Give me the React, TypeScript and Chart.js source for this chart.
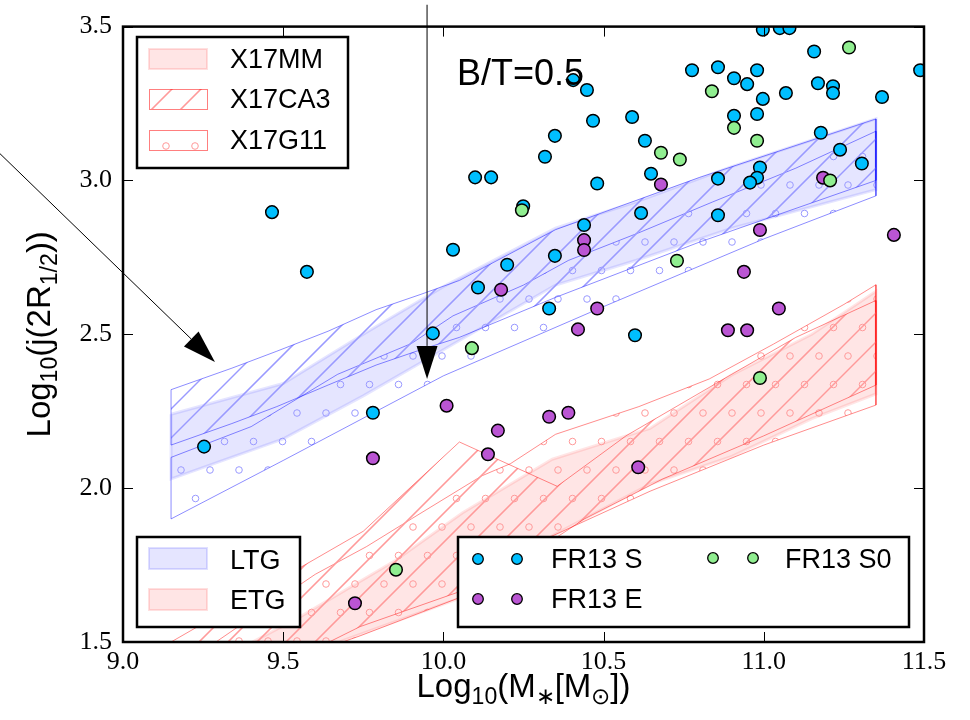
import React, { useEffect, useRef } from "react";
import { Chart, registerables } from "chart.js";
Chart.register(...registerables);

// ---- axis ticks ----
const xTicks = [9.0, 9.5, 10.0, 10.5, 11.0, 11.5];
const yTicks = [1.5, 2.0, 2.5, 3.0, 3.5];

// ---- LTG model bands ----
const ltgMMx = [9.15, 9.5, 9.75, 10.0, 10.35, 10.6, 10.9, 11.35];
const ltgMMup = [2.24, 2.34, 2.5, 2.655, 2.845, 2.93, 3.045, 3.2];
const ltgMMlo = [2.03, 2.16, 2.3, 2.45, 2.66, 2.74, 2.845, 2.97];

const ltgCA3x = [9.15, 9.34, 9.48, 9.64, 9.79, 9.93, 10.05, 10.35, 10.8, 11.35];
const ltgCA3up = [2.32, 2.39, 2.445, 2.51, 2.58, 2.63, 2.675, 2.84, 3.01, 3.2];
const ltgCA3lo = [2.14, 2.21, 2.265, 2.335, 2.4, 2.45, 2.49, 2.62, 2.8, 3.0];

const ltgG11upX = [9.15, 9.4, 9.67, 9.9, 10.03, 10.25, 10.39, 10.61, 10.84, 11.1, 11.35];
const ltgG11upY = [2.1, 2.2, 2.37, 2.47, 2.56, 2.66, 2.74, 2.83, 2.93, 3.04, 3.16];
const ltgG11loX = [9.15, 9.5, 10.0, 10.5, 11.0, 11.35];
const ltgG11loY = [1.9, 2.09, 2.365, 2.59, 2.81, 2.95];

// ---- ETG model bands ----
const etgMMupX = [9.15, 9.55, 9.85, 10.06, 10.34, 10.645, 10.9, 11.15, 11.35];
const etgMMupY = [1.36, 1.58, 1.765, 1.92, 2.094, 2.194, 2.368, 2.5, 2.64];
const etgMMloX = [9.15, 9.69, 10.15, 10.34, 10.645, 10.9, 11.15, 11.35];
const etgMMloY = [1.25, 1.506, 1.68, 1.845, 2.013, 2.103, 2.226, 2.306];

const etgCA3upX = [9.15, 9.55, 9.75, 10.05, 10.355, 10.57, 10.9, 11.1, 11.35];
const etgCA3upY = [1.5, 1.74, 1.86, 2.15, 2.006, 2.17, 2.37, 2.49, 2.61];
const etgCA3loX = [9.15, 9.45, 9.74, 10.15, 10.44, 10.685, 11.0, 11.35];
const etgCA3loY = [1.22, 1.4, 1.55, 1.7, 1.9, 2.03, 2.17, 2.335];

const etgG11upX = [9.15, 9.36, 9.6, 9.76, 9.9, 10.12, 10.21, 10.35, 10.61, 10.83, 11.03, 11.25, 11.35];
const etgG11upY = [1.4, 1.55, 1.72, 1.81, 1.9, 2.04, 2.08, 2.175, 2.265, 2.355, 2.468, 2.597, 2.661];
const etgG11loX = [9.15, 9.55, 9.74, 10.04, 10.33, 10.645, 11.0, 11.35];
const etgG11loY = [1.2, 1.45, 1.52, 1.64, 1.84, 1.99, 2.14, 2.27];

// ---- FR13 observations ----
const sX = [9.465, 9.574, 9.253, 9.78, 9.967, 10.03, 10.108, 10.199, 10.348, 10.439, 10.617, 10.857, 10.857, 10.33, 10.598, 10.48, 10.648, 10.317, 10.348, 10.467, 10.589, 10.629, 10.099, 10.149, 10.249, 10.907, 10.997, 11.05, 11.08, 10.405, 10.448, 10.776, 10.857, 10.907, 10.948, 10.979, 10.997, 10.979, 11.069, 11.157, 11.169, 11.216, 11.216, 11.369, 11.488, 10.988, 10.979, 10.957, 11.178, 11.238, 11.306];
const sY = [2.897, 2.703, 2.135, 2.245, 2.503, 2.775, 2.652, 2.726, 2.755, 2.855, 2.894, 3.006, 2.887, 2.584, 2.497, 2.99, 3.022, 3.077, 3.145, 3.194, 3.206, 3.129, 3.01, 3.01, 2.916, 3.21, 3.49, 3.495, 3.495, 3.326, 3.294, 3.358, 3.368, 3.332, 3.313, 3.358, 3.265, 3.216, 3.284, 3.419, 3.316, 3.306, 3.284, 3.271, 3.358, 3.042, 3.009, 2.993, 3.155, 3.1, 3.055];

const eX = [10.18, 10.01, 10.17, 10.139, 9.78, 9.724, 10.439, 10.439, 10.679, 10.988, 10.938, 11.185, 11.406, 10.48, 10.42, 11.047, 10.888, 10.948, 10.33, 10.39, 10.608];
const eY = [2.645, 2.268, 2.187, 2.11, 2.097, 1.626, 2.806, 2.774, 2.987, 2.839, 2.703, 3.009, 2.823, 2.584, 2.516, 2.584, 2.513, 2.513, 2.232, 2.245, 2.068];

const s0X = [10.838, 10.907, 10.979, 11.266, 10.679, 10.738, 11.207, 10.245, 10.729, 10.089, 9.852, 10.988];
const s0Y = [3.29, 3.171, 3.129, 3.432, 3.09, 3.068, 3.0, 2.903, 2.739, 2.455, 1.735, 2.358];

// ---- annotation arrows (data coordinates) ----
const arrowStartX = [8.616, 9.949];
const arrowStartY = [3.087, 3.571];
const arrowTipX = [9.287, 9.949];
const arrowTipY = [2.41, 2.355];

const SANS = '"Liberation Sans", Arial, Helvetica, sans-serif';
const SERIF = '"Liberation Serif", "Times New Roman", serif';
const BLUE_LINE = "rgba(0,0,255,0.5)";
const RED_LINE = "rgba(255,0,0,0.5)";
const BLUE_HATCH = "#9a9aff";
const RED_HATCH = "#ff9a9a";
const BLUE_FILL = "rgba(0,0,255,0.1)";
const RED_FILL = "rgba(255,0,0,0.1)";
const S_COLOR = "#00BFFF";
const E_COLOR = "#BA55D3";
const S0_COLOR = "#90EE90";
const HATCH_STEP = 29;

function polygon(upX: number[], upY: number[], loX: number[], loY: number[]) {
  const pts = upX.map((x, i) => ({ x, y: upY[i] }));
  for (let i = loX.length - 1; i >= 0; i--) pts.push({ x: loX[i], y: loY[i] });
  pts.push({ x: upX[0], y: upY[0] });
  return pts;
}

// hatch lines drawn as thin filled strips (inside the current clip)
function hatchLines(c: CanvasRenderingContext2D, b: number[], color: string) {
  const s = HATCH_STEP;
  const hw = 0.55;
  c.fillStyle = color;
  const k0 = Math.floor((b[0] + b[1]) / s) - 1;
  const k1 = Math.ceil((b[2] + b[3]) / s) + 1;
  const xa = b[0] - 3, xb = b[2] + 3;
  for (let k = k0; k <= k1; k++) {
    const cc = k * s;
    c.beginPath();
    c.moveTo(xa - hw, cc - xa - hw);
    c.lineTo(xb - hw, cc - xb - hw);
    c.lineTo(xb + hw, cc - xb + hw);
    c.lineTo(xa + hw, cc - xa + hw);
    c.closePath();
    c.fill();
  }
}

function hatchDots(c: CanvasRenderingContext2D, b: number[], color: string, ox = 0, oy = 0) {
  const s = HATCH_STEP;
  const rs = 28.5;
  c.strokeStyle = color;
  c.lineWidth = 1;
  const j0 = Math.floor((b[1] - oy) / rs) - 1;
  const j1 = Math.ceil((b[3] - oy) / rs) + 1;
  for (let j = j0; j <= j1; j++) {
    const y = oy + j * rs;
    const off = ((j % 2) + 2) % 2 ? s / 2 : 0;
    const i0 = Math.floor((b[0] - ox) / s) - 1;
    const i1 = Math.ceil((b[2] - ox) / s) + 1;
    for (let i = i0; i <= i1; i++) {
      const x = ox + i * s + off;
      c.beginPath();
      c.arc(x, y, 3.3, 0, Math.PI * 2);
      c.stroke();
    }
  }
}

type Run = [string, number];
function drawRich(ctx: CanvasRenderingContext2D, runs: Run[], size: number) {
  const sub = size * 0.7;
  let w = 0;
  for (const [t, s] of runs) {
    ctx.font = `${s ? sub : size}px ${SANS}`;
    w += ctx.measureText(t).width;
  }
  let x = -w / 2;
  ctx.textAlign = "left";
  ctx.textBaseline = "alphabetic";
  for (const [t, s] of runs) {
    ctx.font = `${s ? sub : size}px ${SANS}`;
    ctx.fillText(t, x, s ? size * 0.2 : 0);
    x += ctx.measureText(t).width;
  }
}

function marker(ctx: CanvasRenderingContext2D, x: number, y: number, color: string) {
  ctx.beginPath();
  ctx.arc(x, y, 5.3, 0, Math.PI * 2);
  ctx.fillStyle = color;
  ctx.fill();
  ctx.lineWidth = 1.3;
  ctx.strokeStyle = "#000";
  ctx.stroke();
}

export default function App() {
  const ref = useRef<HTMLCanvasElement>(null);
  useEffect(() => {
    document.body.style.margin = "0";
    const canvas = ref.current!;

    const pts = (xs: number[], ys: number[]) => xs.map((x, i) => ({ x, y: ys[i] }));
    const scatter = (label: string, xs: number[], ys: number[], color: string) => ({
      label,
      data: pts(xs, ys),
      showLine: false,
      pointRadius: 6.3,
      pointHoverRadius: 6.3,
      pointBorderWidth: 1.5,
      pointBackgroundColor: color,
      pointBorderColor: "#000",
      borderWidth: 0,
      clip: 0,
      fill: false,
    });
    const band = (label: string, data: any[], bg: string, border: string, bw: number, hatch = "", hatchColor = "") => ({
      label,
      data,
      showLine: true,
      fill: hatch ? false : "shape",
      backgroundColor: bg,
      borderColor: border,
      borderWidth: bw,
      pointRadius: 0,
      pointHoverRadius: 0,
      tension: 0,
      hatch,
      hatchColor,
    });

    const decor = {
      id: "decor",
      beforeDatasetDraw(chart: any, args: any) {
        const c = chart.ctx;
        const ds = chart.data.datasets[args.index];
        if (ds.hatch) {
          const els = args.meta.data;
          if (!els.length) return;
          const { left, right, top, bottom } = chart.chartArea;
          c.save();
          c.beginPath();
          c.rect(left, top, right - left, bottom - top);
          c.clip();
          c.beginPath();
          let b = [Infinity, Infinity, -Infinity, -Infinity];
          els.forEach((p: any, i: number) => {
            if (i === 0) c.moveTo(p.x, p.y);
            else c.lineTo(p.x, p.y);
            b = [Math.min(b[0], p.x), Math.min(b[1], p.y), Math.max(b[2], p.x), Math.max(b[3], p.y)];
          });
          c.closePath();
          c.clip();
          if (ds.hatch === "lines") hatchLines(c, b, ds.hatchColor);
          else hatchDots(c, b, ds.hatchColor, 7, 14);
          c.restore();
          return;
        }
        if (args.index !== 2) return;
        const xs = chart.scales.x, ys = chart.scales.y;
        c.save();
        c.strokeStyle = "#000";
        c.fillStyle = "#000";
        c.lineWidth = 1;
        for (let i = 0; i < arrowStartX.length; i++) {
          const x0 = xs.getPixelForValue(arrowStartX[i]);
          const y0 = ys.getPixelForValue(arrowStartY[i]);
          const x1 = xs.getPixelForValue(arrowTipX[i]);
          const y1 = ys.getPixelForValue(arrowTipY[i]);
          const L = Math.hypot(x1 - x0, y1 - y0);
          const ux = (x1 - x0) / L, uy = (y1 - y0) / L;
          const hl = 33, hw = 10.5;
          const bx = x1 - ux * hl, by = y1 - uy * hl;
          c.beginPath();
          c.moveTo(x0, y0);
          c.lineTo(bx, by);
          c.stroke();
          c.beginPath();
          c.moveTo(x1, y1);
          c.lineTo(bx - uy * hw, by + ux * hw);
          c.lineTo(bx + uy * hw, by - ux * hw);
          c.closePath();
          c.fill();
        }
        c.restore();
      },
      afterDraw(chart: any) {
        const c = chart.ctx;
        const { left, right, top, bottom } = chart.chartArea;
        const xs = chart.scales.x, ys = chart.scales.y;
        c.save();
        // ticks inward on all sides
        c.strokeStyle = "#000";
        c.lineWidth = 1;
        c.beginPath();
        for (const v of xTicks) {
          const p = Math.round(xs.getPixelForValue(v)) + 0.5;
          c.moveTo(p, bottom);
          c.lineTo(p, bottom - 10);
          c.moveTo(p, top);
          c.lineTo(p, top + 10);
        }
        for (const v of yTicks) {
          const p = Math.round(ys.getPixelForValue(v)) + 0.5;
          c.moveTo(left, p);
          c.lineTo(left + 10, p);
          c.moveTo(right, p);
          c.lineTo(right - 10, p);
        }
        c.stroke();
        // frame
        c.lineWidth = 2.5;
        c.strokeRect(left, top, right - left, bottom - top);

        const box = (x: number, y: number, w: number, h: number) => {
          c.fillStyle = "#fff";
          c.fillRect(x, y, w, h);
          c.lineWidth = 2.5;
          c.strokeStyle = "#000";
          c.strokeRect(x, y, w, h);
        };
        const text = (t: string, x: number, y: number, size = 27) => {
          c.fillStyle = "#000";
          c.font = `${size}px ${SANS}`;
          c.textAlign = "left";
          c.textBaseline = "alphabetic";
          c.fillText(t, x, y);
        };
        const patch = (x: number, y: number, w: number, h: number, kind: string, color: string, edge: string) => {
          c.save();
          c.beginPath();
          c.rect(x, y, w, h);
          c.clip();
          if (kind === "lines") hatchLines(c, [x, y, x + w, y + h], color);
          else hatchDots(c, [x, y, x + w, y + h], color, x + 17, y + 16);
          c.restore();
          c.strokeStyle = edge;
          c.lineWidth = 1;
          c.strokeRect(x + 0.5, y + 0.5, w, h);
        };
        // top-left: models
        box(137, 37, 211, 131);
        c.fillStyle = RED_FILL;
        c.fillRect(149, 49, 58, 20);
        c.strokeStyle = "rgba(255,0,0,0.12)";
        c.lineWidth = 2;
        c.strokeRect(149, 49, 58, 20);
        patch(149, 89, 58, 20, "lines", RED_HATCH, RED_LINE);
        patch(149, 130, 58, 20, "dots", RED_HATCH, RED_LINE);
        text("X17MM", 230, 68);
        text("X17CA3", 230, 108);
        text("X17G11", 230, 149);

        // bottom-left: galaxy types
        box(137, 537, 163, 90);
        c.fillStyle = BLUE_FILL;
        c.fillRect(149, 548, 58, 21);
        c.strokeStyle = "rgba(0,0,255,0.12)";
        c.lineWidth = 2;
        c.strokeRect(149, 548, 58, 21);
        c.fillStyle = RED_FILL;
        c.fillRect(149, 589, 58, 21);
        c.strokeStyle = "rgba(255,0,0,0.12)";
        c.strokeRect(149, 589, 58, 21);
        text("LTG", 230, 569);
        text("ETG", 230, 609);

        // bottom-right: observations
        box(458, 537, 451, 90);
        marker(c, 478, 559, S_COLOR);
        marker(c, 517, 559, S_COLOR);
        marker(c, 478, 599, E_COLOR);
        marker(c, 517, 599, E_COLOR);
        marker(c, 713, 558, S0_COLOR);
        marker(c, 753, 558, S0_COLOR);
        text("FR13 S", 551, 568);
        text("FR13 E", 551, 608);
        text("FR13 S0", 785, 568);

        // annotation
        text("B/T=0.5", 457, 85, 36);

        // axis titles
        c.fillStyle = "#000";
        c.save();
        c.translate((left + right) / 2, 697);
        drawRich(c, [["Log", 0], ["10", 1], ["(M", 0], ["\u2217", 1], ["[M", 0], ["\u2299", 1], ["])", 0]], 33);
        c.restore();
        c.save();
        c.translate(50, (top + bottom) / 2);
        c.rotate(-Math.PI / 2);
        drawRich(c, [["Log", 0], ["10", 1], ["(j(2R", 0], ["1/2", 1], ["))", 0]], 33);
        c.restore();
        c.restore();
      },
    };

    const chart = new Chart(canvas, {
      type: "line",
      data: {
        datasets: [
          scatter("FR13 S0", s0X, s0Y, S0_COLOR),
          scatter("FR13 E", eX, eY, E_COLOR),
          scatter("FR13 S", sX, sY, S_COLOR),
          band("ETG X17CA3", polygon(etgCA3upX, etgCA3upY, etgCA3loX, etgCA3loY), "transparent", RED_LINE, 0.9, "lines", RED_HATCH),
          band("ETG X17G11", polygon(etgG11upX, etgG11upY, etgG11loX, etgG11loY), "transparent", RED_LINE, 0.9, "dots", RED_HATCH),
          band("ETG X17MM", polygon(etgMMupX, etgMMupY, etgMMloX, etgMMloY), RED_FILL, "rgba(255,0,0,0.1)", 3),
          band("LTG X17CA3", polygon(ltgCA3x, ltgCA3up, ltgCA3x, ltgCA3lo), "transparent", BLUE_LINE, 0.9, "lines", BLUE_HATCH),
          band("LTG X17G11", polygon(ltgG11upX, ltgG11upY, ltgG11loX, ltgG11loY), "transparent", BLUE_LINE, 0.9, "dots", BLUE_HATCH),
          band("LTG X17MM", polygon(ltgMMx, ltgMMup, ltgMMx, ltgMMlo), BLUE_FILL, "rgba(0,0,255,0.1)", 3),
        ] as any,
      },
      options: {
        animation: false,
        responsive: false,
        devicePixelRatio: 1,
        events: [],
        layout: { padding: { top: 22, right: 46, left: 0, bottom: 0 } },
        plugins: { legend: { display: false }, tooltip: { enabled: false } },
        scales: {
          x: {
            type: "linear",
            min: 9,
            max: 11.5,
            grid: { display: false, drawTicks: false },
            border: { display: false },
            afterBuildTicks: (s: any) => {
              s.ticks = xTicks.map((v) => ({ value: v }));
            },
            afterFit: (s: any) => {
              s.height = 78;
            },
            ticks: {
              autoSkip: false,
              maxRotation: 0,
              padding: 5,
              color: "#000",
              font: { family: SERIF, size: 26 },
              callback: (v: any) => Number(v).toFixed(1),
            },
          },
          y: {
            type: "linear",
            min: 1.5,
            max: 3.5,
            grid: { display: false, drawTicks: false },
            border: { display: false },
            afterBuildTicks: (s: any) => {
              s.ticks = yTicks.map((v) => ({ value: v }));
            },
            afterFit: (s: any) => {
              s.width = 123;
            },
            ticks: {
              padding: 11,
              color: "#000",
              font: { family: SERIF, size: 26 },
              callback: (v: any) => Number(v).toFixed(1),
            },
          },
        },
      } as any,
      plugins: [decor],
    });
    return () => chart.destroy();
  }, []);
  return <canvas ref={ref} width={970} height={720} style={{ display: "block" }} />;
}
